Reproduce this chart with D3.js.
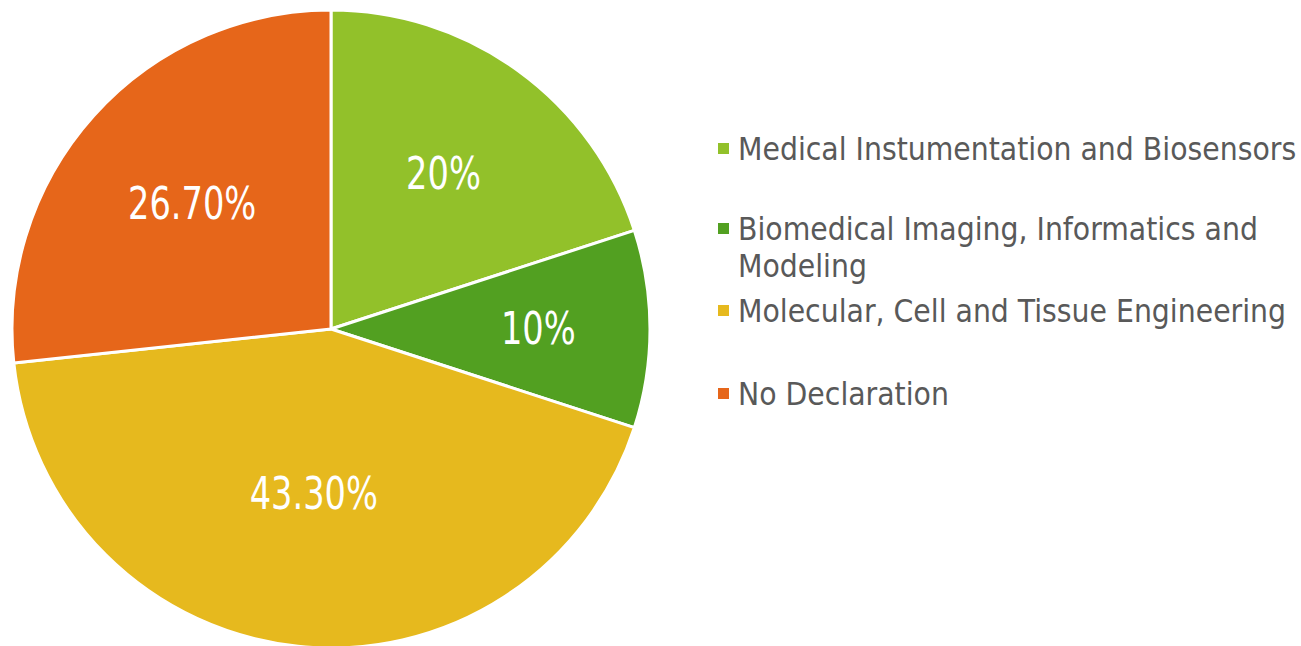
<!DOCTYPE html>
<html>
<head>
<meta charset="utf-8">
<script src="https://cdn.jsdelivr.net/npm/d3@7"></script>
<style>
  body { margin: 0; background: #fff; }
  svg { display: block; }
  text { font-family: "DejaVu Sans Condensed", "DejaVu Sans", sans-serif; }
</style>
</head>
<body>
<div id="chart"></div>
<script>
// chart data
var categories = [
  'Medical Instumentation and Biosensors',
  'Biomedical Imaging, Informatics and Modeling',
  'Molecular, Cell and Tissue Engineering',
  'No Declaration'
];
var values = [20, 10, 43.3, 26.7];
var valueLabels = ['20%', '10%', '43.30%', '26.70%'];
var colors = ['#92c12a', '#52a021', '#e6b91e', '#e6661a'];

// where each label sits along its slice (fraction of radius), like excel best fit
var labelPos = [0.60, 0.65, 0.52, 0.585];

var width = 1301, height = 646;
var cx = 331, cy = 329, radius = 319;

var svg = d3.select('#chart').append('svg')
  .attr('width', width)
  .attr('height', height);

var pie = d3.pie().sort(null).value(function (d) { return d; });
var arcs = pie(values);

var arc = d3.arc().innerRadius(0).outerRadius(radius);

var g = svg.append('g').attr('transform', 'translate(' + cx + ',' + cy + ')');

g.selectAll('path').data(arcs)
  .enter().append('path')
  .attr('d', arc)
  .attr('fill', function (d, i) { return colors[i]; })
  .attr('stroke', '#fff')
  .attr('stroke-width', 3)
  .attr('stroke-linejoin', 'round');

g.selectAll('text.val').data(arcs)
  .enter().append('text')
  .attr('class', 'val')
  .attr('transform', function (d, i) {
    var r = radius * labelPos[i];
    var c = d3.arc().innerRadius(r).outerRadius(r).centroid(d);
    return 'translate(' + c[0] + ',' + (c[1] + 15) + ') scale(0.85,1)';
  })
  .attr('text-anchor', 'middle')
  .attr('fill', '#fff')
  .attr('font-size', 44)
  .text(function (d, i) { return valueLabels[i]; });

// legend
var legendX = 718;
var rowY = [160, 240, 322, 405];
var lineGap = 37;

var legend = svg.append('g');
var item = legend.selectAll('g').data(categories)
  .enter().append('g')
  .attr('transform', function (d, i) { return 'translate(' + legendX + ',' + rowY[i] + ')'; });

item.append('rect')
  .attr('x', 0)
  .attr('y', -17)
  .attr('width', 11)
  .attr('height', 11)
  .attr('fill', function (d, i) { return colors[i]; });

item.append('text')
  .attr('fill', '#595959')
  .attr('font-size', 31.5)
  .attr('transform', 'translate(20,0)')
  .each(function (d, i) {
    var t = d3.select(this);
    var lines = i === 1 ? ['Biomedical Imaging, Informatics and', 'Modeling'] : [d];
    lines.forEach(function (l, j) {
      t.append('tspan').attr('x', 0).attr('y', j * lineGap).text(l);
    });
  });
</script>
</body>
</html>
